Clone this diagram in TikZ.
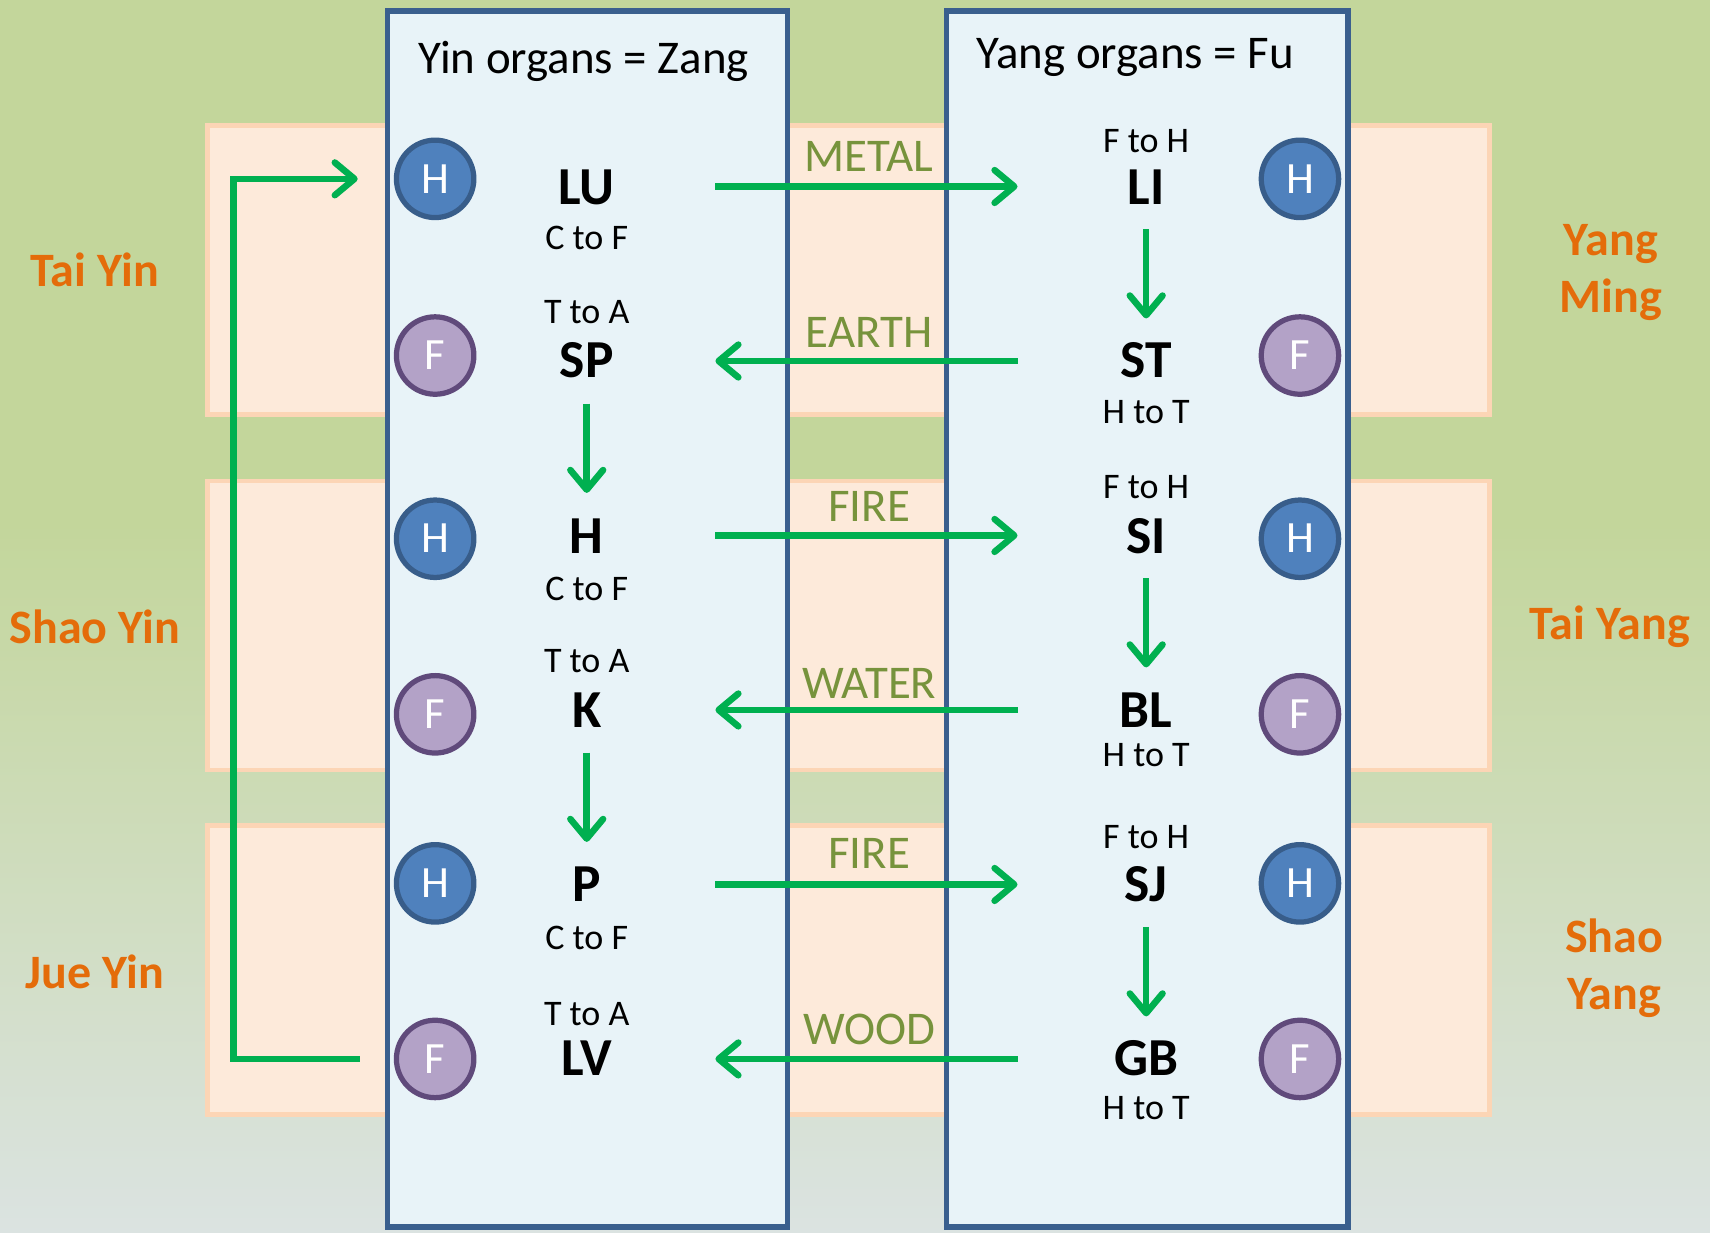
\documentclass[tikz,border=0pt]{standalone}
\usepackage{fontspec}
\setmainfont{Carlito}
\usetikzlibrary{arrows.meta}
\definecolor{bggreen}{HTML}{C3D69B}
\definecolor{bggray}{HTML}{DBE3E1}
\definecolor{bandfill}{HTML}{FDEADA}
\definecolor{bandline}{HTML}{FCD5B5}
\definecolor{panelfill}{HTML}{E8F3F8}
\definecolor{panelline}{HTML}{3A5F8E}
\definecolor{hfill}{HTML}{4F81BD}
\definecolor{hline}{HTML}{385D8A}
\definecolor{ffill}{HTML}{B3A2C7}
\definecolor{fline}{HTML}{604A7B}
\definecolor{arrowgreen}{HTML}{00B050}
\definecolor{elemcol}{HTML}{77933C}
\definecolor{sidecol}{HTML}{E46C0A}
\begin{document}
\begin{tikzpicture}[x=0.5pt,y=-0.5pt,
  band/.style={fill=bandfill,draw=bandline,line width=2.2pt},
  panel/.style={fill=panelfill,draw=panelline,line width=2.4pt},
  title/.style={inner sep=0pt,text height=13.6pt,text depth=0pt,font=\fontsize{21.5pt}{26pt}\selectfont},
  organ/.style={inner sep=0pt,text height=15.5pt,text depth=0pt,font=\fontsize{24.5pt}{29pt}\selectfont\bfseries},
  sub/.style={inner sep=0pt,text height=10.4pt,text depth=0pt,font=\fontsize{16.5pt}{20pt}\selectfont},
  hcirc/.style={circle,minimum size=35.5pt,inner sep=0pt,line width=2.4pt,fill=hfill,draw=hline,text=white,text height=13pt,text depth=0pt,font=\fontsize{20.5pt}{24pt}\selectfont},
  fcirc/.style={hcirc,fill=ffill,draw=fline},
  elem/.style={inner sep=0pt,text height=13.6pt,text depth=0pt,text=elemcol,font=\fontsize{21.5pt}{26pt}\selectfont},
  side/.style={inner sep=0pt,text=sidecol,align=center,font=\fontsize{22pt}{26pt}\selectfont\bfseries},
  flow/.style={draw=arrowgreen,line width=3pt,-{Straight Barb[length=9pt,width=15pt,line width=3pt,round]}}
]
\useasboundingbox (0,0) rectangle (1568,1130);
% background
\fill[bggreen] (0,0) rectangle (1568,481);
\shade[top color=bggreen,bottom color=bggray] (0,480) rectangle (1568,1130);
% bands
\draw[band] (190,115) rectangle (1366,380);
\draw[band] (190,441) rectangle (1366,706);
\draw[band] (190,757) rectangle (1366,1022);
% panels
\draw[panel] (355,10) rectangle (722,1125);
\draw[panel] (868,10) rectangle (1236,1125);
% titles
\node[title] (yintitle) at (535,53.5) {Yin organs = Zang};
\node[title] (yangtitle) at (1041,49.5) {Yang organs = Fu};
% left organs
\node[organ] (LU) at (538,172) {LU};
\node[sub] (LUs) at (538,218) {C to F};
\node[sub] (SPs) at (538,286) {T to A};
\node[organ] (SP) at (538,331) {SP};
\node[organ] (HT) at (538,492) {H};
\node[sub] (HTs) at (538,540) {C to F};
\node[sub] (Ks) at (538,606) {T to A};
\node[organ] (K) at (538,652) {K};
\node[organ] (P) at (538,811) {P};
\node[sub] (Ps) at (538,860) {C to F};
\node[sub] (LVs) at (538,930) {T to A};
\node[organ] (LV) at (538,971) {LV};
% right organs
\node[sub] (LIs) at (1051,129) {F to H};
\node[organ] (LI) at (1051,172) {LI};
\node[organ] (ST) at (1051,331) {ST};
\node[sub] (STs) at (1051,378) {H to T};
\node[sub] (SIs) at (1051,447) {F to H};
\node[organ] (SI) at (1051,492) {SI};
\node[organ] (BL) at (1051,652) {BL};
\node[sub] (BLs) at (1051,692) {H to T};
\node[sub] (SJs) at (1051,768) {F to H};
\node[organ] (SJ) at (1051,811) {SJ};
\node[organ] (GB) at (1051,971) {GB};
\node[sub] (GBs) at (1051,1016) {H to T};
% circles
\node[hcirc] (c1) at (399,164) {H};
\node[fcirc] (c2) at (399,326) {F};
\node[hcirc] (c3) at (399,494) {H};
\node[fcirc] (c4) at (399,655) {F};
\node[hcirc] (c5) at (399,810) {H};
\node[fcirc] (c6) at (399,971) {F};
\node[hcirc] (d1) at (1192,164) {H};
\node[fcirc] (d2) at (1192,326) {F};
\node[hcirc] (d3) at (1192,494) {H};
\node[fcirc] (d4) at (1192,655) {F};
\node[hcirc] (d5) at (1192,810) {H};
\node[fcirc] (d6) at (1192,971) {F};
% element labels
\node[elem] (metal) at (797,144) {METAL};
\node[elem] (earth) at (797,305) {EARTH};
\node[elem] (fire1) at (797,465) {FIRE};
\node[elem] (water) at (797,627) {WATER};
\node[elem] (fire2) at (797,783) {FIRE};
\node[elem] (wood) at (797,944) {WOOD};
% side labels
\node[side] (taiyin) at (87,247) {Tai Yin};
\node[side] (shaoyin) at (87,575) {Shao Yin};
\node[side] (jueyin) at (87,891) {Jue Yin};
\node[side] (yangming) at (1477,250) {Yang\\Ming};
\node[side] (taiyang) at (1476,575) {Tai Yang};
\node[side] (shaoyang) at (1480,888) {Shao\\Yang};
% arrow end coordinates
\coordinate (aL1) at (656,171); \coordinate (aR1) at (933,171);
\coordinate (aL2) at (656,331); \coordinate (aR2) at (933,331);
\coordinate (aL3) at (656,491); \coordinate (aR3) at (933,491);
\coordinate (aL4) at (656,651); \coordinate (aR4) at (933,651);
\coordinate (aL5) at (656,811); \coordinate (aR5) at (933,811);
\coordinate (aL6) at (656,971); \coordinate (aR6) at (933,971);
\draw[flow] (aL1) -- (aR1);
\draw[flow] (aR2) -- (aL2);
\draw[flow] (aL3) -- (aR3);
\draw[flow] (aR4) -- (aL4);
\draw[flow] (aL5) -- (aR5);
\draw[flow] (aR6) -- (aL6);
% vertical arrows
\coordinate (vL1a) at (538,370); \coordinate (vL1b) at (538,452);
\coordinate (vL2a) at (538,690); \coordinate (vL2b) at (538,772);
\coordinate (vR1a) at (1051,210); \coordinate (vR1b) at (1051,292);
\coordinate (vR2a) at (1051,530); \coordinate (vR2b) at (1051,612);
\coordinate (vR3a) at (1051,850); \coordinate (vR3b) at (1051,932);
\draw[flow] (vL1a) -- (vL1b);
\draw[flow] (vL2a) -- (vL2b);
\draw[flow] (vR1a) -- (vR1b);
\draw[flow] (vR2a) -- (vR2b);
\draw[flow] (vR3a) -- (vR3b);
% loop arrow
\coordinate (loopS) at (330,971);
\coordinate (loopE) at (328,164);
\draw[flow] (loopS) -- (214,971) -- (214,164) -- (loopE);
\end{tikzpicture}
\end{document}
